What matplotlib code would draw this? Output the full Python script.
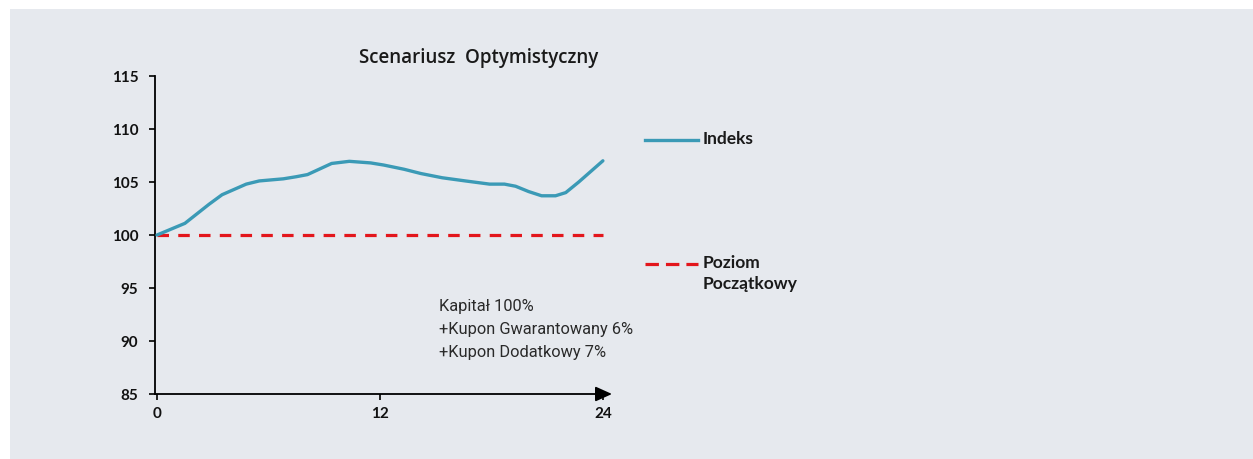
import matplotlib.pyplot as plt
from matplotlib.lines import Line2D
from matplotlib.patches import Rectangle

# dane
months = [0, 1.5, 2.8, 3.5, 4.8, 5.5, 6.8, 7.5, 8.1, 9.4, 10.35, 11.5, 12.2, 13.3,
          14.2, 15.35, 16.6, 17.9, 18.7, 19.3, 20.0, 20.7, 21.45, 22.0, 22.7, 24]
indeks = [100, 101.1, 102.9, 103.8, 104.8, 105.1, 105.3, 105.5, 105.7, 106.75, 106.95,
          106.8, 106.6, 106.2, 105.8, 105.4, 105.1, 104.8, 104.8, 104.6, 104.1, 103.7,
          103.7, 104.0, 105.0, 107.0]
poziom_x = [0, 24]
poziom = [100, 100]
yticks = [85, 90, 95, 100, 105, 110, 115]
xticks = [0, 12, 24]
title = "Scenariusz  Optymistyczny"
note = ["Kapitał 100%", "+Kupon Gwarantowany 6%", "+Kupon Dodatkowy 7%"]

W, H = 1253, 460
blue = "#3b9ab6"
red = "#e3161c"
bg = "#e6e9ee"
plt.rcParams['font.family'] = ['Lato', 'DejaVu Sans']

fig = plt.figure(figsize=(W / 100, H / 100), dpi=100)
fig.patch.set_facecolor("white")
fig.add_artist(Rectangle((10 / W, 0), 1 - 10 / W, 1 - 10 / H, transform=fig.transFigure,
                         facecolor=bg, edgecolor="none", zorder=0))

ax = fig.add_axes([155 / W, 1 - 395 / H, (612 - 155) / W, (395 - 77) / H])
ax.set_facecolor("none")
ax.plot(months, indeks, color=blue, lw=2.4, solid_capstyle="round", zorder=3)
ax.plot(poziom_x, poziom, color=red, lw=2.3, linestyle=(0, (3.6, 2.9)), zorder=2)

ax.set_xlim(-0.11, 24.49)
ax.set_ylim(85, 115)
ax.set_yticks(yticks)
ax.set_xticks(xticks)
for s in ["top", "right", "bottom"]:
    ax.spines[s].set_visible(False)
ax.spines["left"].set_linewidth(1.3)
ax.tick_params(axis="y", length=4, width=1.2, pad=8, labelsize=11)
ax.tick_params(axis="x", length=4, width=1.2, pad=5, labelsize=11)
for lab in ax.get_xticklabels() + ax.get_yticklabels():
    lab.set_fontweight("bold")
    lab.set_color("#111111")

# os x ze strzalka
ax.annotate("", xy=(1.0, 0), xytext=(0, 0), xycoords="axes fraction",
            arrowprops=dict(arrowstyle="-|>,head_length=1.0,head_width=0.45",
                            color="black", lw=1.3, shrinkA=0, shrinkB=0))

fig.text(479 / W, 1 - 58 / H, title, ha="center", va="center", fontsize=13.5,
         fontweight="semibold", color="#1a1a1a", family=["Open Sans", "DejaVu Sans"])

for i, t in enumerate(note):
    fig.text(439 / W, 1 - (307 + 23 * i) / H, t, ha="left", va="center", fontsize=11.8,
             fontweight="normal", color="#2a2a2a", family=["Roboto", "DejaVu Sans"])

# legenda
fig.add_artist(Line2D([645 / W, 698 / W], [1 - 141 / H] * 2, transform=fig.transFigure,
                      color=blue, lw=2.4))
fig.text(703 / W, 1 - 139 / H, "Indeks", ha="left", va="center", fontsize=12.5,
         fontweight="bold", color="#1a1a1a")
fig.add_artist(Line2D([645 / W, 698 / W], [1 - 265 / H] * 2, transform=fig.transFigure,
                      color=red, lw=2.3, linestyle=(0, (4.2, 2.2))))
fig.text(703 / W, 1 - 263 / H, "Poziom", ha="left", va="center", fontsize=12.5,
         fontweight="bold", color="#1a1a1a")
fig.text(703 / W, 1 - 284 / H, "Początkowy", ha="left", va="center", fontsize=12.5,
         fontweight="bold", color="#1a1a1a")

fig.savefig("out.png", dpi=100, facecolor=fig.get_facecolor())
